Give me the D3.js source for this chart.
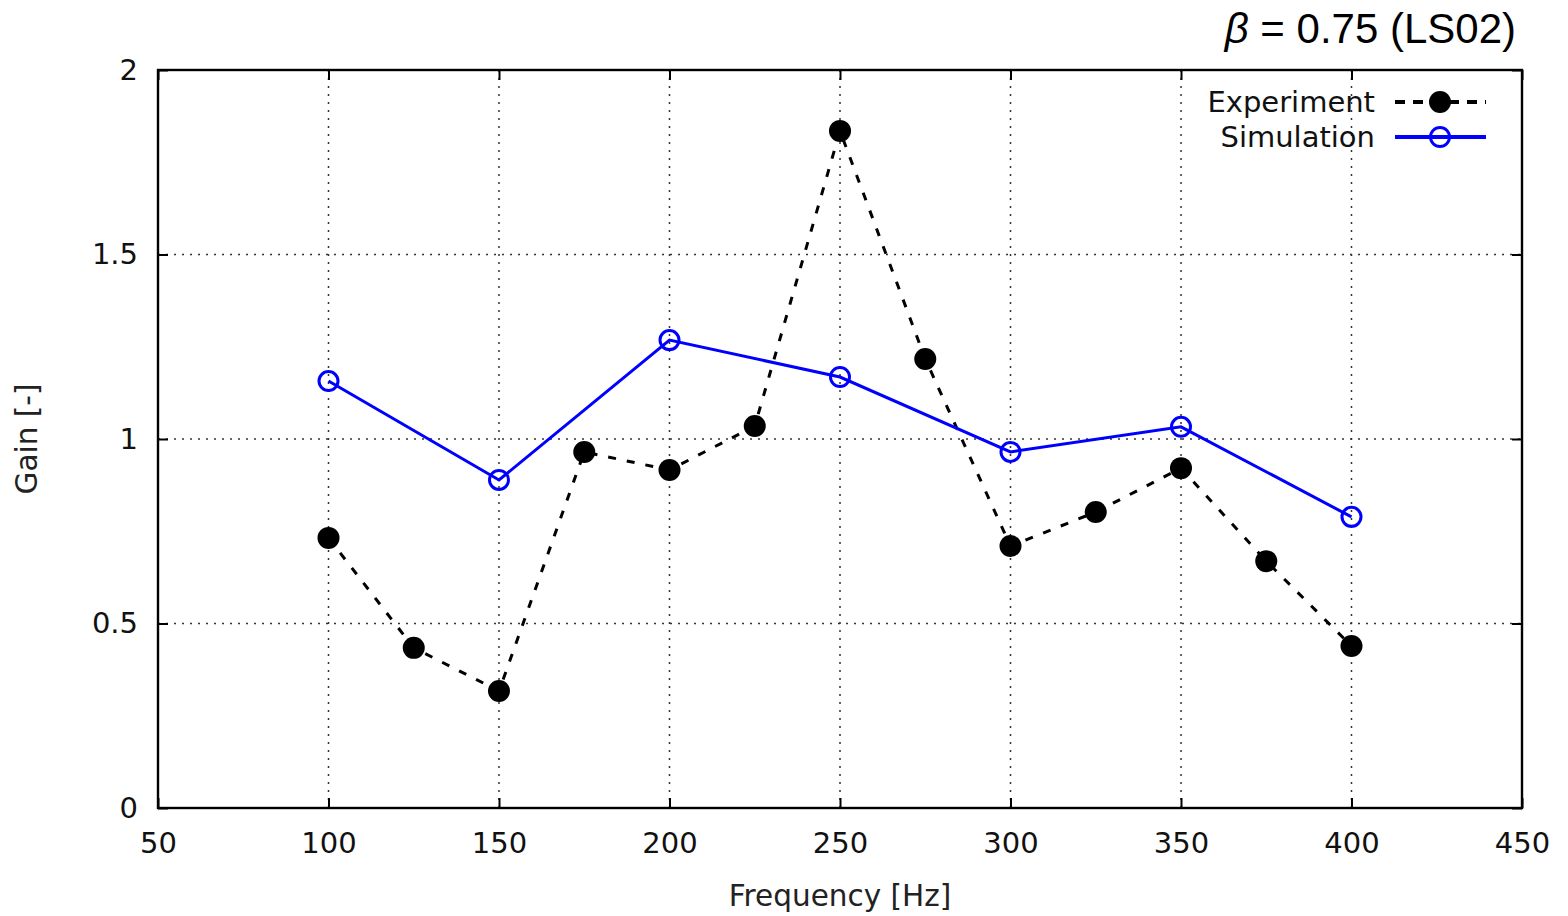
<!DOCTYPE html>
<meta charset="UTF-8">
<style>
body { margin: 0; background: #fff; }
.tick text { font: 29px "DejaVu Sans", sans-serif; fill: #111; }
.grid line { stroke: #333; stroke-width: 1.5px; stroke-dasharray: 2,6; }
.axis-label { font: 29.5px "DejaVu Sans", sans-serif; fill: #222; }
.legend text { font: 29px "DejaVu Sans", sans-serif; fill: #111; }
</style>
<body>
<script src="https://cdn.jsdelivr.net/npm/d3@7"></script>
<script>

// experiment (measured) gain at 25 Hz steps
var expFreq = [100, 125, 150, 175, 200, 225, 250, 275, 300, 325, 350, 375, 400];
var expGain = [0.732, 0.434, 0.317, 0.965, 0.916, 1.035, 1.835, 1.217, 0.710, 0.802, 0.921, 0.669, 0.439];

// simulation gain at 50 Hz steps
var simFreq = [100, 150, 200, 250, 300, 350, 400];
var simGain = [1.157, 0.889, 1.268, 1.168, 0.965, 1.033, 0.789];

var xTicks = [50, 100, 150, 200, 250, 300, 350, 400, 450];
var yTicks = [0, 0.5, 1, 1.5, 2];

var margin = {top: 70, right: 46, bottom: 108, left: 158},
    W = 1568, H = 916,
    width = W - margin.left - margin.right,
    height = H - margin.top - margin.bottom;

var svg = d3.select("body").append("svg")
    .attr("width", W)
    .attr("height", H);

var g = svg.append("g")
    .attr("transform", "translate(" + margin.left + "," + margin.top + ")");

var x = d3.scaleLinear().domain([50, 450]).range([0, width]);
var y = d3.scaleLinear().domain([0, 2]).range([height, 0]);

// grid (dotted), skip the frame edges
g.append("g").attr("class", "grid")
  .selectAll("line.v")
  .data(xTicks.slice(1, -1))
  .enter().append("line")
    .attr("x1", function(d) { return x(d); })
    .attr("x2", function(d) { return x(d); })
    .attr("y1", 0).attr("y2", height);

g.append("g").attr("class", "grid")
  .selectAll("line.h")
  .data(yTicks.slice(1, -1))
  .enter().append("line")
    .attr("x1", 0).attr("x2", width)
    .attr("y1", function(d) { return y(d); })
    .attr("y2", function(d) { return y(d); });

// axes: inward ticks, mirrored on top/right
var tickLen = 10;
var fmt = function(d) { return d3.format("")(d); };

var xAxis = g.append("g")
    .attr("transform", "translate(0," + height + ")")
    .call(d3.axisBottom(x).tickValues(xTicks).tickSize(-tickLen).tickPadding(24).tickFormat(fmt));
var xTop = g.append("g")
    .call(d3.axisTop(x).tickValues(xTicks).tickSize(-tickLen).tickFormat(""));
var yAxis = g.append("g")
    .call(d3.axisLeft(y).tickValues(yTicks).tickSize(-tickLen).tickPadding(20).tickFormat(fmt));
var yRight = g.append("g")
    .attr("transform", "translate(" + width + ",0)")
    .call(d3.axisRight(y).tickValues(yTicks).tickSize(-tickLen).tickFormat(""));

[xAxis, xTop, yAxis, yRight].forEach(function(a) {
  a.select(".domain").remove();
  a.selectAll(".tick line").attr("stroke", "#000").attr("stroke-width", 2);
});

g.append("rect")
    .attr("width", width).attr("height", height)
    .attr("fill", "none").attr("stroke", "#000").attr("stroke-width", 2.4);

// experiment series
var expData = expFreq.map(function(f, i) { return {x: f, y: expGain[i]}; });
var simData = simFreq.map(function(f, i) { return {x: f, y: simGain[i]}; });

var line = d3.line()
    .x(function(d) { return x(d.x); })
    .y(function(d) { return y(d.y); });

g.append("path")
    .datum(expData)
    .attr("d", line)
    .attr("fill", "none")
    .attr("stroke", "#000")
    .attr("stroke-width", 3)
    .attr("stroke-dasharray", "8,11");

g.selectAll("circle.exp")
  .data(expData)
  .enter().append("circle")
    .attr("class", "exp")
    .attr("cx", function(d) { return x(d.x); })
    .attr("cy", function(d) { return y(d.y); })
    .attr("r", 11)
    .attr("fill", "#000");

// simulation series
g.append("path")
    .datum(simData)
    .attr("d", line)
    .attr("fill", "none")
    .attr("stroke", "#0000ff")
    .attr("stroke-width", 3);

g.selectAll("circle.sim")
  .data(simData)
  .enter().append("circle")
    .attr("class", "sim")
    .attr("cx", function(d) { return x(d.x); })
    .attr("cy", function(d) { return y(d.y); })
    .attr("r", 9.5)
    .attr("fill", "none")
    .attr("stroke", "#0000ff")
    .attr("stroke-width", 3);

// legend
var legend = svg.append("g").attr("class", "legend");
var legItems = [
  {name: "Experiment", y: 102, color: "#000", dash: "10,8", fill: "#000", r: 11},
  {name: "Simulation", y: 137, color: "#0000ff", dash: null, fill: "none", r: 9.5}
];
legItems.forEach(function(it) {
  legend.append("text")
      .attr("x", 1375).attr("y", it.y)
      .attr("dy", "0.35em")
      .attr("text-anchor", "end")
      .text(it.name);
  legend.append("line")
      .attr("x1", 1395).attr("x2", 1486)
      .attr("y1", it.y).attr("y2", it.y)
      .attr("stroke", it.color)
      .attr("stroke-width", 4)
      .attr("stroke-dasharray", it.dash);
  legend.append("circle")
      .attr("cx", 1440).attr("cy", it.y)
      .attr("r", it.r)
      .attr("fill", it.fill)
      .attr("stroke", it.fill === "none" ? it.color : null)
      .attr("stroke-width", 3);
});

// axis labels
svg.append("text")
    .attr("class", "axis-label")
    .attr("x", margin.left + width / 2)
    .attr("y", 906)
    .attr("text-anchor", "middle")
    .text("Frequency [Hz]");

svg.append("text")
    .attr("class", "axis-label")
    .attr("transform", "translate(37," + (margin.top + height / 2) + ") rotate(-90)")
    .attr("text-anchor", "middle")
    .text("Gain [-]");

// title top-right
var title = svg.append("text")
    .attr("x", 1516).attr("y", 43)
    .attr("text-anchor", "end")
    .style("font", "42px 'Liberation Sans', Arial, sans-serif")
    .style("fill", "#000");
title.append("tspan").style("font-style", "italic").text("β");
title.append("tspan").text(" = 0.75 (LS02)");

</script>
</body>
